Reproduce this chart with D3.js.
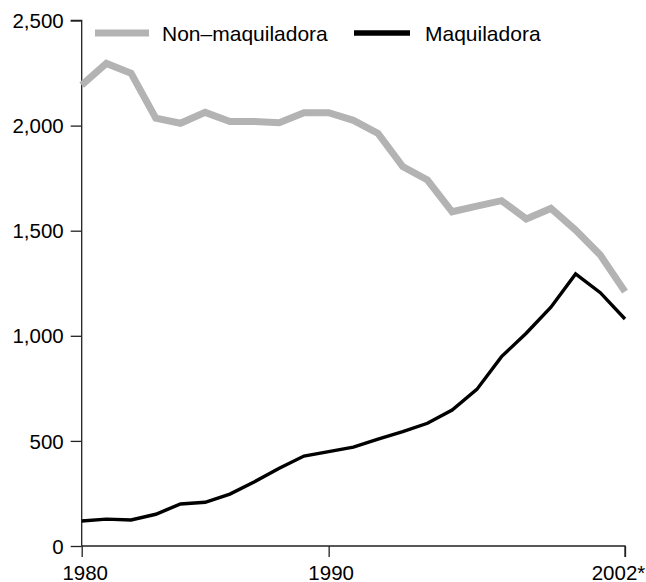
<!DOCTYPE html>
<html>
<head>
<meta charset="utf-8">
<script src="https://cdn.jsdelivr.net/npm/d3@7"></script>
<style>
  html, body { margin: 0; padding: 0; background: #fff; }
  svg { display: block; font-family: "Liberation Sans", Arial, Helvetica, sans-serif; }
</style>
</head>
<body>
<svg id="chart" width="646" height="582"></svg>
<script>
const years = d3.range(1980, 2003);
const nonMaquiladora = [2193, 2296, 2249, 2035, 2011, 2063, 2019, 2019, 2014, 2061, 2061, 2025, 1963, 1805, 1741, 1590, 1617, 1643, 1556, 1606, 1503, 1384, 1210];
const maquiladora = [119, 128, 124, 151, 200, 208, 247, 306, 370, 428, 449, 470, 508, 544, 584, 647, 745, 901, 1012, 1136, 1294, 1205, 1080];
const yTicks = [0, 500, 1000, 1500, 2000, 2500];
const xTicks = [1980, 1990, 2002];
const xTickLabels = ["1980", "1990", "2002*"];
const seriesNames = ["Non\u2013maquiladora", "Maquiladora"];
const seriesColors = ["#b3b3b3", "#000000"];

const svg = d3.select("#chart");
const x = d3.scaleLinear().domain([1980, 2002]).range([81.7, 625]);
const y = d3.scaleLinear().domain([0, 2500]).range([546, 20.5]);

// Y axis
const yAxis = svg.append("g").attr("transform", `translate(${x(1980)},0)`)
  .call(d3.axisLeft(y).tickValues(yTicks).tickSize(11).tickPadding(7).tickFormat(d3.format(",")));
yAxis.select(".domain").attr("stroke", "#222").attr("stroke-width", 1.3).attr("d", `M-11,${y(2500)}H0V${y(0)}`);
yAxis.selectAll(".tick line").attr("stroke", "#222").attr("stroke-width", 1.3);
yAxis.selectAll(".tick text").attr("fill", "#000").style("font-size", "20.5px").style("font-family", "Liberation Sans, Arial, sans-serif").attr("dy", "0.35em");

// X axis
const xAxis = svg.append("g").attr("transform", `translate(0,${y(0)})`)
  .call(d3.axisBottom(x).tickValues(xTicks).tickSize(11).tickPadding(8)
    .tickFormat((d, i) => xTickLabels[i]));
xAxis.select(".domain").attr("stroke", "#222").attr("stroke-width", 1.3).attr("d", `M${x(1980)},0H${x(2002)}V11`);
xAxis.selectAll(".tick line").attr("stroke", "#222").attr("stroke-width", 1.3);
xAxis.selectAll(".tick text").attr("fill", "#000").style("font-size", "20.5px").style("font-family", "Liberation Sans, Arial, sans-serif")
  .attr("dy", "0.71em")
  .attr("dx", (d, i) => i === 0 ? 3 : (i === xTicks.length - 1 ? -7 : 2));

// Lines
const line = d3.line().x((d, i) => x(years[i])).y(d => y(d)).curve(d3.curveLinear);
svg.append("path").datum(nonMaquiladora).attr("d", line)
  .attr("fill", "none").attr("stroke", seriesColors[0]).attr("stroke-width", 7).attr("stroke-linejoin", "miter");
svg.append("path").datum(maquiladora).attr("d", line)
  .attr("fill", "none").attr("stroke", seriesColors[1]).attr("stroke-width", 3.4).attr("stroke-linejoin", "miter");

// Legend
const legend = svg.append("g");
const legendItems = [
  { x1: 95, x2: 149, tx: 162, w: 7 },
  { x1: 354, x2: 410, tx: 425, w: 5.5 }
];
legendItems.forEach((it, i) => {
  legend.append("line").attr("x1", it.x1).attr("x2", it.x2).attr("y1", 33).attr("y2", 33)
    .attr("stroke", seriesColors[i]).attr("stroke-width", it.w);
  legend.append("text").attr("x", it.tx).attr("y", 41).text(seriesNames[i])
    .style("font-size", "21px").attr("fill", "#000");
});
</script>
</body>
</html>
